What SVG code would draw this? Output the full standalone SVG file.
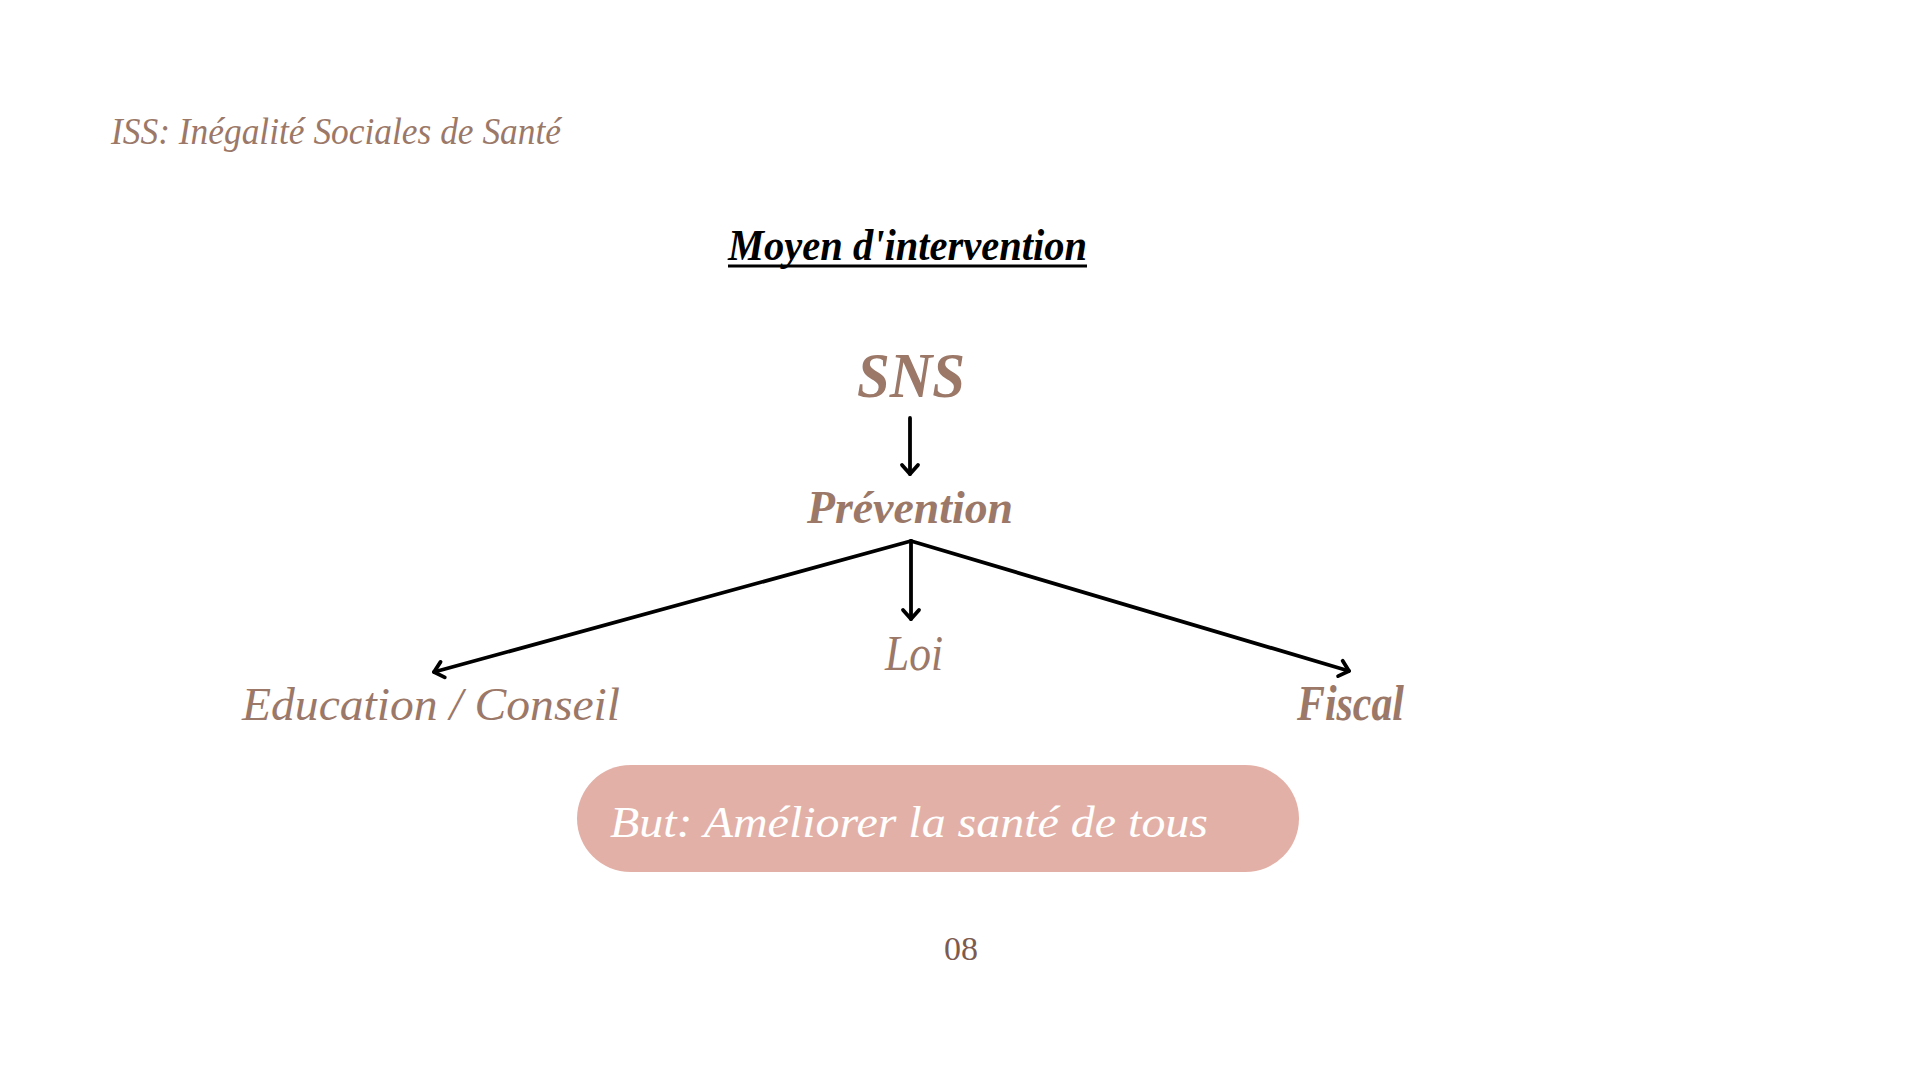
<svg xmlns="http://www.w3.org/2000/svg" width="1919" height="1080" viewBox="0 0 1919 1080">
<style>
  .t { font-family: "Liberation Serif", "DejaVu Serif", serif; font-style: italic; fill: #9b7868; }
  .b { font-weight: bold; }
  .conn { stroke: #000; stroke-width: 3.8; fill: none; stroke-linecap: round; }
</style>
<defs>
  <marker id="ah" markerUnits="userSpaceOnUse" markerWidth="26" markerHeight="26" viewBox="-13 -13 26 26" refX="0" refY="0" orient="auto">
    <path d="M-9,-8 L0,0 L-9,8" fill="none" stroke="#000" stroke-width="3.8" stroke-linecap="round" stroke-linejoin="round"/>
  </marker>
</defs>
<rect width="1919" height="1080" fill="#ffffff"/>

<g id="header">
  <text class="t" x="111" y="144" font-size="38" textLength="450" lengthAdjust="spacingAndGlyphs">ISS: Inégalité Sociales de Santé</text>
</g>

<g id="title">
  <text class="t b" x="728" y="260" font-size="44" style="fill:#000" textLength="359" lengthAdjust="spacingAndGlyphs">Moyen d'intervention</text>
  <line x1="728" y1="266" x2="1087" y2="266" stroke="#000" stroke-width="3"/>
</g>

<g id="node-sns">
  <text class="t b" x="857" y="397" font-size="64" textLength="108" lengthAdjust="spacingAndGlyphs">SNS</text>
</g>

<g id="node-prevention">
  <text class="t b" x="807" y="523" font-size="46" textLength="206" lengthAdjust="spacingAndGlyphs">Prévention</text>
</g>

<g id="node-loi">
  <text class="t" x="885" y="670" font-size="50" textLength="58" lengthAdjust="spacingAndGlyphs">Loi</text>
</g>

<g id="node-education">
  <text class="t" x="242" y="720" font-size="47" textLength="378" lengthAdjust="spacingAndGlyphs">Education / Conseil</text>
</g>

<g id="node-fiscal">
  <text class="t" x="1297" y="720" font-size="50" style="font-weight:600" textLength="107" lengthAdjust="spacingAndGlyphs">Fiscal</text>
</g>

<g id="connectors">
  <line class="conn" x1="910" y1="418" x2="910" y2="474" marker-end="url(#ah)"/>
  <line class="conn" x1="911" y1="541" x2="434" y2="672" marker-end="url(#ah)"/>
  <line class="conn" x1="911" y1="541" x2="911" y2="619" marker-end="url(#ah)"/>
  <line class="conn" x1="911" y1="541" x2="1349" y2="671" marker-end="url(#ah)"/>
</g>

<g id="goal">
  <rect x="577" y="765" width="722" height="107" rx="53.5" ry="53.5" fill="#e3b0a7"/>
  <text class="t" x="610" y="837" font-size="45" style="fill:#ffffff" textLength="598" lengthAdjust="spacingAndGlyphs">But: Améliorer la santé de tous</text>
</g>

<g id="page-number">
  <text x="961" y="960" font-family="Liberation Serif, serif" font-size="34" fill="#7d5b4f" text-anchor="middle">08</text>
</g>
</svg>
